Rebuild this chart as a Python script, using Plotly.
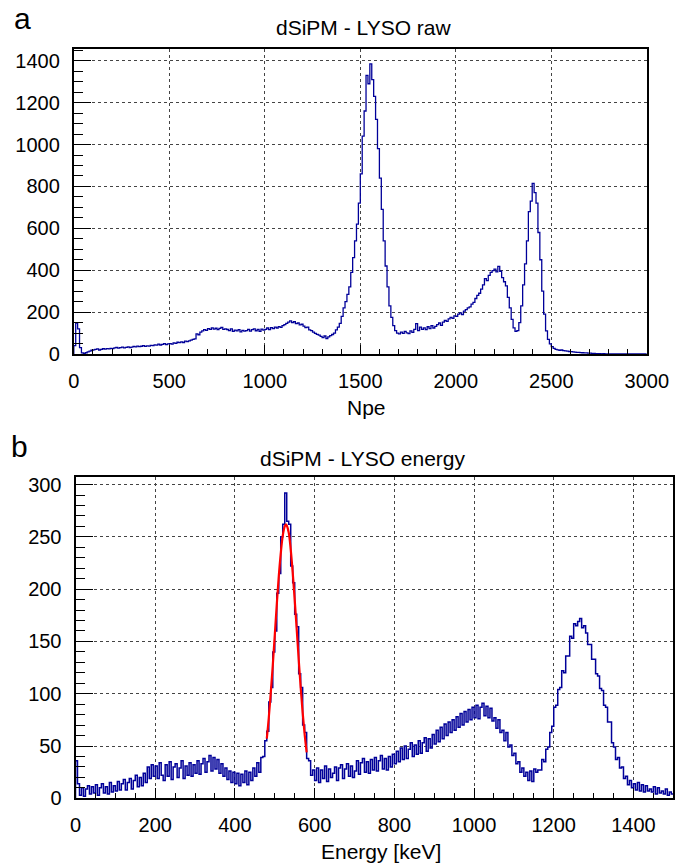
import numpy as np
import plotly.graph_objects as go

# ---------------- data ----------------
# Panel a: raw spectrum, 10 Npe bins from 0 to 3000
raw_bin_width = 10
raw_counts = [
    40, 148, 120, 30, 5, 3, 6, 10, 14, 18,
    20, 22, 24, 19, 22, 25, 23, 26, 24, 27,
    26, 29, 31, 28, 30, 33, 29, 32, 34, 31,
    33, 36, 34, 38, 35, 37, 40, 36, 39, 38,
    41, 40, 44, 42, 47, 43, 46, 50, 45, 48,
    50, 47, 53, 51, 56, 54, 58, 55, 61, 59,
    63, 66, 70, 72, 96, 92, 104, 110, 116, 113,
    121, 118, 125, 119, 123, 116, 122, 127, 118, 120,
    117, 112, 120, 108, 114, 110, 116, 106, 113, 109,
    112, 118, 109, 116, 120, 111, 117, 108, 119, 114,
    118, 124, 116, 126, 121, 128, 124, 131, 127, 135,
    140, 146, 152, 158, 150, 154, 145, 148, 139, 142,
    133, 126, 128, 115, 112, 104, 98, 94, 90, 84,
    78, 86, 74, 82, 88, 93, 100, 115, 128, 146,
    180, 220, 250, 285, 320, 390, 460, 540, 620, 720,
    860, 1040, 1160, 1330, 1290, 1385, 1310, 1230, 1120, 980,
    840, 690, 540, 420, 320, 230, 175, 135, 112, 100,
    96, 104, 98, 108, 101, 97, 110, 103, 118, 145,
    112, 128, 118, 125, 116, 130, 121, 135, 124, 132,
    140, 148, 137, 152, 160, 156, 168, 175, 170, 182,
    180, 190, 196, 188, 205, 212, 220, 225, 238, 246,
    265, 280, 290, 310, 330, 360, 350, 375, 390, 398,
    405, 392, 418, 395, 365, 345, 325, 270, 220, 165,
    125, 108, 112, 150, 230, 330, 430, 540, 680, 730,
    815, 770, 720, 580, 450, 300, 190, 110, 70, 48,
    35, 27, 22, 20, 18, 19, 16, 15, 14, 12,
    11, 10, 9, 8, 8, 7, 6, 5, 5, 4,
    4, 3, 3, 2, 2, 2, 1, 2, 1, 1,
    1, 1, 0, 1, 0, 0, 1, 0, 0, 0,
    0, 0, 0, 1, 0, 0, 0, 0, 0, 0,
]

# Panel b: calibrated energy spectrum, 5 keV bins from 0 to 1500
energy_bin_width = 5
energy_counts = [
    36, 14, 3, 10, 2, 9, 12, 4, 11, 5, 13, 3, 10, 14, 5, 11, 4, 15, 6, 12,
    7, 16, 8, 14, 18, 8, 15, 19, 9, 17, 22, 11, 20, 12, 24, 15, 30, 19, 32, 21,
    31, 19, 34, 22, 17, 32, 21, 35, 18, 30, 33, 20, 29, 36, 19, 31, 22, 34, 21, 32,
    24, 36, 23, 33, 38, 25, 35, 41, 26, 39, 28, 37, 24, 33, 21, 29, 18, 26, 15, 25,
    14, 24, 12, 23, 15, 26, 13, 25, 17, 29, 21, 34, 25, 39, 40, 55, 64, 92, 106, 140,
    160, 196, 215, 250, 262, 292, 265, 262, 222, 206, 176, 164, 119, 106, 70, 63, 38, 36, 22, 27,
    17, 29, 15, 27, 19, 31, 16, 28, 20, 24, 30, 17, 29, 32, 19, 28, 33, 21, 31, 20,
    26, 36, 23, 34, 38, 25, 35, 24, 37, 27, 39, 26, 36, 41, 28, 38, 27, 40, 30, 42,
    33, 45, 35, 48, 37, 50, 38, 47, 53, 40, 51, 42, 55, 43, 53, 58, 45, 57, 48, 61,
    52, 65, 54, 68, 57, 71, 60, 73, 63, 75, 65, 78, 68, 81, 70, 83, 73, 85, 75, 87,
    77, 89, 76, 87, 91, 79, 88, 77, 86, 74, 77, 67, 75, 63, 65, 55, 63, 49, 51, 41,
    43, 33, 35, 25, 29, 21, 25, 17, 26, 16, 28, 25, 27, 27, 37, 35, 47, 49, 63, 69,
    87, 89, 104, 106, 122, 120, 136, 136, 155, 153, 167, 165, 169, 172, 163, 165, 158, 147, 147, 133,
    133, 119, 117, 105, 103, 89, 87, 73, 73, 53, 49, 37, 39, 29, 30, 19, 21, 13, 17, 10,
    14, 8, 15, 7, 13, 6, 12, 7, 9, 6, 11, 4, 10, 5, 7, 4, 9, 3, 6, 4,
]

# Gaussian fit of the 511 keV photopeak
fit_energy = [480, 485, 490, 495, 500, 505, 510, 515, 520, 525, 528, 530,
              535, 540, 545, 550, 555, 560, 565, 570, 575, 580]
fit_counts = [57, 77, 101, 127, 156, 185, 212, 234, 251, 260, 262, 261,
              254, 238, 216, 190, 162, 133, 106, 82, 61, 44]

raw_ticks = [0, 500, 1000, 1500, 2000, 2500, 3000]
raw_yticks = [0, 200, 400, 600, 800, 1000, 1200, 1400]
energy_ticks = [0, 200, 400, 600, 800, 1000, 1200, 1400]
energy_yticks = [0, 50, 100, 150, 200, 250, 300]

# ---------------- helpers ----------------
def step_xy(counts, width):
    counts = np.asarray(counts, dtype=float)
    edges = np.arange(len(counts) + 1) * width
    x = np.concatenate([[edges[0]], edges])
    y = np.concatenate([[0.0], counts, [counts[-1]]])
    return x, y

W, H = 684, 864
HIST = "#000099"
FONT = "Liberation Sans, Arial, sans-serif"

def px_x(p):
    return p / W

def px_y(p):
    return 1 - p / H

fig = go.Figure()

xr, yr = step_xy(raw_counts, raw_bin_width)
fig.add_trace(go.Scatter(x=xr, y=yr, mode="lines", line=dict(color=HIST, width=1.3, shape="hv"),
                         xaxis="x", yaxis="y", showlegend=False, hoverinfo="skip"))

xe, ye = step_xy(energy_counts, energy_bin_width)
fig.add_trace(go.Scatter(x=xe, y=ye, mode="lines", line=dict(color=HIST, width=1.5, shape="hv"),
                         xaxis="x2", yaxis="y2", showlegend=False, hoverinfo="skip"))

fig.add_trace(go.Scatter(x=fit_energy, y=fit_counts, mode="lines",
                         line=dict(color="#ff0000", width=2.2, shape="spline"),
                         xaxis="x2", yaxis="y2", showlegend=False, hoverinfo="skip"))

common = dict(
    showline=True, linecolor="black", linewidth=2, mirror=True,
    ticks="inside", tickcolor="black", tickwidth=1,
    showgrid=True, gridcolor="#444444", griddash="dot", gridwidth=1,
    zeroline=False, automargin=False,
    tickfont=dict(family=FONT, size=20, color="black"),
)

fig.update_layout(
    width=W, height=H,
    margin=dict(l=0, r=0, t=0, b=0),
    paper_bgcolor="white", plot_bgcolor="white",
    font=dict(family=FONT, color="black"),
    xaxis=dict(domain=[px_x(73.8), px_x(646.8)], range=[0, 3000], anchor="y",
               tickmode="array", tickvals=raw_ticks, ticklen=9,
               minor=dict(dtick=100, tick0=0, ticklen=5, ticks="inside", tickcolor="black", showgrid=False),
               ticklabelstandoff=8, **common),
    yaxis=dict(domain=[px_y(354), px_y(49)], range=[0, 1456], anchor="x",
               tickmode="array", tickvals=raw_yticks, ticklen=17,
               minor=dict(dtick=50, tick0=0, ticklen=9, ticks="inside", tickcolor="black", showgrid=False),
               ticklabelstandoff=8, **common),
    xaxis2=dict(domain=[px_x(75.5), px_x(673.3)], range=[0, 1500], anchor="y2",
                tickmode="array", tickvals=energy_ticks, ticklen=10,
                minor=dict(dtick=50, tick0=0, ticklen=5, ticks="inside", tickcolor="black", showgrid=False),
                ticklabelstandoff=8, **common),
    yaxis2=dict(domain=[px_y(798.3), px_y(476.7)], range=[0, 307.5], anchor="x2",
                tickmode="array", tickvals=energy_yticks, ticklen=17,
                minor=dict(dtick=10, tick0=0, ticklen=9, ticks="inside", tickcolor="black", showgrid=False),
                ticklabelstandoff=8, **common),
)

def label(text, x, y, size):
    fig.add_annotation(text=text, x=px_x(x), y=px_y(y), xref="paper", yref="paper",
                       xanchor="center", yanchor="middle", showarrow=False,
                       font=dict(family=FONT, size=size, color="black"))

label("a", 22, 19, 30)
label("dSiPM - LYSO raw", 363, 27, 21)
label("Npe", 366, 407, 21)
label("b", 19, 446, 30)
label("dSiPM - LYSO energy", 363, 458, 21)
label("Energy [keV]", 381, 851, 21)

fig.write_html(
    "out.html",
    config={"displayModeBar": False},
    post_script="document.body.style.margin='0';document.body.style.padding='0';"
                "document.documentElement.style.overflow='hidden';",
)
